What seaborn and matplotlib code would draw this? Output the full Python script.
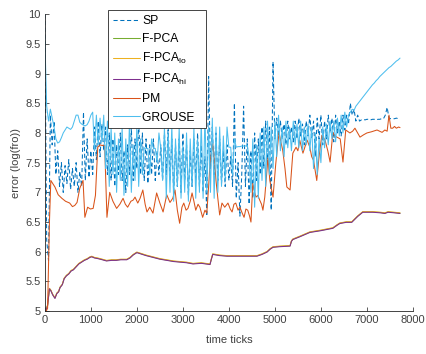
import numpy as np
import pandas as pd
import seaborn as sns
import matplotlib
matplotlib.use("Agg")
import matplotlib.pyplot as plt

sns.set_style("white")
plt.rcParams['font.family'] = ['Liberation Sans', 'DejaVu Sans']
plt.rcParams['mathtext.fontset'] = 'custom'
plt.rcParams['mathtext.rm'] = 'Liberation Sans'
plt.rcParams['mathtext.it'] = 'Liberation Sans'

# ---------------- data ----------------
step = 40
sp_vals = [
    10.0, 6.2, 5.85, 8.3, 7.8, 8.2, 7.3, 7.7, 7.1, 7.5,
    7.0, 7.45, 7.15, 7.55, 7.05, 7.4, 7.1, 7.5, 7.0, 7.35,
    7.1, 8.35, 7.2, 7.9, 7.25, 7.7, 7.3, 8.1, 7.55, 8.2,
    7.6, 8.15, 7.7, 8.1, 7.3, 8.0, 7.2, 7.9, 7.1, 7.8,
    7.3, 8.0, 7.2, 7.7, 7.0, 7.8, 7.3, 8.1, 7.2, 7.9,
    7.4, 8.2, 7.3, 8.0, 7.2, 7.9, 7.15, 7.8, 7.3, 7.9,
    7.2, 7.7, 7.3, 7.8, 7.2, 8.0, 7.3, 8.1, 7.2, 7.9,
    7.0, 7.8, 7.1, 7.9, 7.0, 8.0, 7.2, 7.8, 6.95, 7.7,
    7.1, 7.9, 7.2, 8.0, 7.1, 7.8, 7.0, 7.6, 6.6, 8.95,
    7.4, 8.1, 7.3, 8.0, 7.2, 7.9, 7.15, 7.7, 7.1, 7.8,
    7.2, 7.6, 7.1, 8.5, 6.9, 7.5, 6.6, 7.3, 8.45, 7.1,
    7.9, 6.8, 7.7, 6.9, 8.0, 7.2, 7.9, 7.3, 8.1, 7.4,
    8.2, 7.5, 8.1, 6.7, 9.2, 7.9, 8.25, 7.95, 8.2, 7.9,
    8.15, 7.8, 8.2, 7.9, 8.1, 7.85, 8.2, 7.9, 8.25, 7.95,
    8.15, 7.8, 8.2, 7.95, 8.3, 7.9, 8.2, 7.6, 8.25, 7.9,
    8.3, 7.8, 8.2, 7.9, 8.3, 8.0, 8.25, 7.85, 8.3, 8.0,
    8.2, 7.95, 8.3, 8.05, 8.3, 8.15, 8.5, 8.3, 8.4, 8.2,
    8.3, 8.2, 8.22, 8.23, 8.22, 8.23, 8.23, 8.22, 8.23, 8.23,
    8.22, 8.23, 8.23, 8.24, 8.24, 8.3, 8.43, 8.25, 8.24, 8.24,
    8.24, 8.25, 8.24, 8.25,
]
sp_t = np.arange(len(sp_vals)) * step

grouse_vals = [
    9.6, 8.45, 8.2, 8.4, 8.25, 8.1, 7.9, 7.83, 7.85, 7.92,
    8.0, 8.05, 8.1, 8.08, 8.06, 8.1, 8.2, 8.3, 8.3, 8.18,
    8.15, 8.13, 8.12, 8.14, 8.2, 8.3, 8.35, 7.7, 8.3, 7.8,
    8.25, 7.85, 8.3, 7.4, 8.2, 7.1, 8.1, 7.3, 8.0, 7.0,
    7.9, 7.2, 8.1, 6.95, 7.9, 7.1, 8.2, 7.0, 7.8, 7.2,
    8.1, 7.1, 7.9, 7.3, 7.75, 7.74, 7.74, 7.3, 7.9, 7.74,
    7.74, 7.5, 8.0, 7.74, 7.2, 8.1, 6.9, 8.0, 7.0, 8.15,
    6.85, 7.9, 7.1, 8.1, 6.9, 7.8, 7.0, 8.0, 6.85, 7.9,
    7.1, 8.1, 6.9, 7.9, 7.0, 8.2, 6.9, 8.3, 7.0, 8.1,
    7.0, 8.25, 6.9, 8.1, 7.0, 8.1, 7.1, 7.95, 7.2, 8.1,
    7.76, 7.76, 7.3, 7.9, 7.76, 7.77, 7.77, 7.78, 7.78, 7.78,
    7.79, 7.6, 7.0, 7.9, 6.75, 7.8, 6.9, 8.0, 7.2, 8.1,
    7.1, 8.2, 7.3, 8.1, 7.4, 8.2, 7.6, 8.3, 7.7, 8.1,
    7.6, 8.2, 7.75, 8.1, 7.7, 8.2, 7.8, 8.15, 7.75, 8.2,
    7.7, 8.1, 7.8, 8.15, 7.7, 8.1, 7.4, 8.0, 7.3, 7.9,
    7.5, 8.1, 7.75, 8.15, 7.8, 8.2, 7.9, 8.2, 7.85, 8.25,
    7.95, 8.3, 8.0, 8.35, 8.1, 8.3, 8.35, 8.4, 8.38, 8.45,
    8.49, 8.53, 8.57, 8.61, 8.65, 8.69, 8.73, 8.77, 8.81, 8.84,
    8.88, 8.91, 8.95, 8.98, 9.01, 9.04, 9.07, 9.1, 9.12, 9.15,
    9.18, 9.21, 9.23, 9.26,
]
grouse_t = np.arange(len(grouse_vals)) * step

pm_t = [0, 60, 100, 130, 220, 290, 370, 450, 540, 600, 650, 700, 760, 830, 870, 930,
        990, 1050, 1100, 1150, 1200, 1240, 1300, 1350, 1410, 1480, 1560, 1630, 1700,
        1750, 1800, 1870, 1920, 1960, 2020, 2070, 2130, 2180, 2220, 2280, 2350, 2430,
        2500, 2570, 2650, 2720, 2780, 2830, 2880, 2930, 2980, 3020, 3070, 3110, 3160,
        3200, 3240, 3280, 3330, 3370, 3430, 3480, 3520, 3560, 3590, 3650, 3690, 3720,
        3760, 3800, 3850, 3910, 3980, 4030, 4070, 4110, 4150, 4200, 4240, 4290, 4330,
        4370, 4410, 4450, 4480, 4520, 4560, 4590, 4630, 4670, 4710, 4740, 4780, 4850,
        4890, 4960, 5020, 5090, 5130, 5170, 5220, 5260, 5330, 5390, 5460, 5500, 5540,
        5610, 5700, 5760, 5800, 5840, 5880, 5910, 5960, 6020, 6090, 6150, 6200, 6260,
        6300, 6350, 6420, 6480, 6540, 6630, 6690, 6740, 6800, 6850, 6930, 7000, 7100,
        7220, 7330, 7390, 7440, 7480, 7520, 7560, 7600, 7640, 7690, 7720]
pm_vals = [4.95, 5.05, 6.5, 7.2, 7.09, 6.96, 6.9, 6.85, 6.82, 6.76, 6.78, 6.83, 7.07, 7.2,
           6.58, 6.75, 6.72, 6.73, 6.95, 7.76, 7.8, 7.79, 7.79, 6.58, 7.0, 6.85, 6.73, 6.8,
           6.9, 6.8, 6.75, 6.85, 6.87, 6.92, 6.82, 6.9, 7.04, 6.8, 6.67, 6.75, 6.65, 6.99,
           6.82, 6.67, 6.96, 6.83, 6.9, 7.04, 6.7, 6.48, 6.75, 6.82, 6.7, 6.73, 6.85,
           6.99, 6.85, 6.7, 6.8, 6.75, 6.58, 6.7, 6.65, 7.1, 7.49, 7.82, 7.5, 7.2,
           6.9, 6.62, 6.82, 6.75, 6.82, 6.72, 6.67, 6.8, 6.82, 6.7, 6.75, 6.65, 6.58,
           6.72, 6.7, 6.6, 6.5, 7.15, 7.0, 6.92, 6.95, 6.87, 6.8, 6.7, 6.92, 7.58,
           7.2, 6.92, 7.49, 8.01, 7.85, 7.71, 7.4, 7.09, 7.04, 7.66, 7.76, 7.7, 7.88,
           7.66, 7.88, 7.76, 7.6, 7.54, 7.35, 7.2, 7.6, 7.96, 7.88, 7.7, 7.51, 8.01,
           7.95, 7.93, 7.9, 7.51, 8.05, 8.0, 8.03, 8.08, 8.0, 7.93, 7.97, 8.0, 8.02,
           8.05, 8.01, 8.05, 8.03, 8.3, 8.08, 8.08, 8.11, 8.08, 8.1, 8.09]

fpca_t = [20, 60, 100, 130, 170, 220, 260, 300, 330, 380, 420, 470, 520, 570, 620, 680,
          740, 800, 860, 920, 980, 1020, 1080, 1150, 1250, 1340, 1450, 1550, 1650, 1780,
          1850, 1920, 2000, 2080, 2200, 2350, 2500, 2650, 2800, 2940, 3080, 3220, 3400,
          3590, 3620, 3650, 3800, 3960, 4200, 4400, 4610, 4720, 4830, 4900, 4960, 5100,
          5330, 5360, 5390, 5550, 5760, 6000, 6260, 6350, 6410, 6550, 6670, 6800, 6910,
          7130, 7300, 7390, 7460, 7600, 7720]
fpca_vals = [5.0, 5.1, 5.38, 5.35, 5.28, 5.22, 5.3, 5.33, 5.4, 5.45, 5.55, 5.6, 5.63,
             5.68, 5.7, 5.75, 5.8, 5.83, 5.86, 5.88, 5.91, 5.92, 5.9, 5.89, 5.87, 5.85,
             5.86, 5.86, 5.87, 5.87, 5.9, 5.95, 5.99, 5.97, 5.94, 5.91, 5.88, 5.86, 5.84,
             5.83, 5.82, 5.8, 5.81, 5.79, 5.88, 5.96, 5.94, 5.93, 5.93, 5.93, 5.93, 5.96,
             6.0, 6.05, 6.08, 6.09, 6.1, 6.18, 6.21, 6.26, 6.33, 6.36, 6.4, 6.45, 6.48,
             6.5, 6.5, 6.6, 6.67, 6.67, 6.66, 6.65, 6.67, 6.66, 6.65]
fpca_lo_vals = [v + 0.005 for v in fpca_vals]
fpca_hi_vals = [v - 0.005 for v in fpca_vals]

labels = ['SP', 'F-PCA', r'F-PCA$_{\mathrm{lo}}$', r'F-PCA$_{\mathrm{hi}}$', 'PM', 'GROUSE']
colors = ['#0072BD', '#77AC30', '#EDB120', '#7E2F8E', '#D95319', '#4DBEEE']

# ---------------- plot ----------------
fig = plt.figure(figsize=(4.27, 3.54), dpi=100)
ax = fig.add_axes([0.105, 0.121, 0.862, 0.839])

lw = 0.75
sns.lineplot(x=sp_t, y=sp_vals, ax=ax, color=colors[0], lw=lw, linestyle=(0, (4, 2.5)),
             label=labels[0], errorbar=None, sort=False)
sns.lineplot(x=fpca_t, y=fpca_vals, ax=ax, color=colors[1], lw=lw, label=labels[1],
             errorbar=None, sort=False)
sns.lineplot(x=fpca_t, y=fpca_lo_vals, ax=ax, color=colors[2], lw=lw, label=labels[2],
             errorbar=None, sort=False)
sns.lineplot(x=fpca_t, y=fpca_hi_vals, ax=ax, color=colors[3], lw=lw, label=labels[3],
             errorbar=None, sort=False)
sns.lineplot(x=pm_t, y=pm_vals, ax=ax, color=colors[4], lw=lw, label=labels[4],
             errorbar=None, sort=False)
sns.lineplot(x=grouse_t, y=grouse_vals, ax=ax, color=colors[5], lw=lw, label=labels[5],
             errorbar=None, sort=False)

ax.set_xlim(0, 8000)
ax.set_ylim(5, 10)
ax.set_xticks(np.arange(0, 8001, 1000))
ax.set_yticks(np.arange(5, 10.01, 0.5))
ax.set_yticklabels(['5', '5.5', '6', '6.5', '7', '7.5', '8', '8.5', '9', '9.5', '10'])
tc = '#262626'
ax.tick_params(direction='in', length=3, width=0.6, colors=tc, labelsize=8,
               bottom=True, left=True, pad=3)
ax.tick_params(colors='#404040', which='both', labelcolor='#404040')
for s in ['top', 'right']:
    ax.spines[s].set_visible(False)
for s in ['left', 'bottom']:
    ax.spines[s].set_color(tc)
    ax.spines[s].set_linewidth(0.6)
ax.set_xlabel('time ticks', fontsize=8, color='#404040', labelpad=7)
ax.set_ylabel('error (log(fro))', fontsize=8, color='#404040', labelpad=3)

leg = ax.legend(loc='upper left', bbox_to_anchor=(0.171, 1.013), borderaxespad=0,
                fontsize=8.7, frameon=True, fancybox=False, handlelength=2.3,
                handletextpad=0.15, labelspacing=0.5, borderpad=0.4)
leg.get_frame().set_edgecolor(tc)
leg.get_frame().set_linewidth(0.6)
leg.get_frame().set_alpha(1)
for t in leg.get_texts():
    t.set_color('#000000')
texts = leg.get_texts()
texts[-1].set_text('GROUSE\u2002')

fig.savefig('out.png', dpi=100)
